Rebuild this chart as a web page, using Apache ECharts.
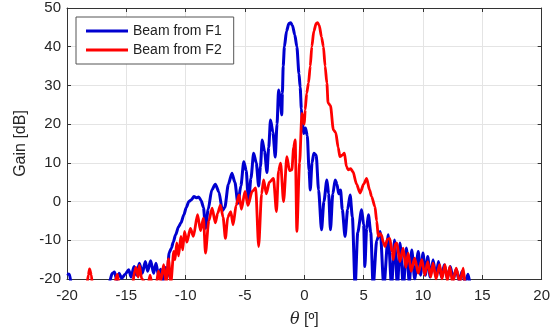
<!DOCTYPE html>
<html>
<head>
<meta charset="utf-8">
<script src="https://cdn.jsdelivr.net/npm/echarts@6/dist/echarts.min.js"></script>
<style>
  html, body { margin: 0; padding: 0; background: #fff; }
  #chart { width: 553px; height: 335px; }
</style>
</head>
<body>
<div id="chart"></div>
<script>
// [theta (deg), gain (dB)]; dips below -20 are clipped by the axis
const beamF1 = [
  [-20, -18.6], [-19.8, -18.8], [-19.6, -22], [-16.6, -22], [-16.4, -20.5], [-16.2, -18.6], [-16.0, -18.2],
  [-15.8, -20.3], [-15.6, -18.5], [-15.4, -19.8], [-15.1, -18.8], [-14.8, -17.6], [-14.6, -19.5],
  [-14.35, -16.8], [-14.15, -19], [-13.9, -15.9], [-13.65, -18.5], [-13.4, -15.5], [-13.2, -18],
  [-12.95, -15.3], [-12.7, -18.5], [-12.5, -15.9], [-12.3, -19], [-12.1, -17.5], [-11.9, -20.5],
  [-11.7, -17], [-11.55, -19.5], [-11.4, -13.3], [-11.2, -12], [-11.05, -10.5], [-10.85, -8.6],
  [-10.6, -6.5], [-10.4, -5.5], [-10.15, -3.4], [-9.95, -1.5], [-9.73, 0], [-9.5, 0.5], [-9.3, 1.3],
  [-9.1, 1.0], [-8.9, 1.2], [-8.7, 0.3], [-8.5, -1.5], [-8.33, -6.9], [-8.1, -2], [-7.8, 3], [-7.5, 4.5],
  [-7.2, 2.5], [-6.9, -2.3], [-6.7, -1.5], [-6.4, 4.5], [-6.1, 7.3], [-5.85, 5], [-5.6, -0.5],
  [-5.35, 4], [-5.1, 10.3], [-4.9, 8], [-4.7, -0.2], [-4.5, 6], [-4.27, 12.5], [-4.05, 10], [-3.85, 4],
  [-3.7, 9], [-3.55, 15.9], [-3.35, 13], [-3.15, 7.5], [-3.0, 14], [-2.85, 21.1], [-2.65, 18],
  [-2.45, 11.5], [-2.3, 20], [-2.17, 28.8], [-2.05, 27], [-1.9, 22.4], [-1.85, 28], [-1.78, 35],
  [-1.68, 40], [-1.5, 44], [-1.3, 46], [-1.15, 46.2], [-1.0, 45.5], [-0.8, 43], [-0.63, 40],
  [-0.45, 33], [-0.35, 29.5], [-0.25, 24], [-0.15, 20], [-0.05, 17.6], [0.1, 19], [0.25, 17],
  [0.4, 8], [0.5, 3], [0.65, 10], [0.8, 12.5], [1.0, 12], [1.2, 3], [1.45, -7.3], [1.65, 0],
  [1.9, 5.6], [2.05, 2], [2.2, -7.3], [2.4, 2], [2.6, 5.6], [2.75, 4.5], [2.9, 2], [3.05, 3],
  [3.2, -2], [3.43, -9], [3.65, -2], [3.86, 1.7], [4.05, -4], [4.28, -22], [4.5, -8], [4.83, -2.1],
  [5.0, -6], [5.1, -16.8], [5.25, -7], [5.4, -3.4], [5.6, -8], [5.8, -22], [6.1, -10], [6.4, -7.7],
  [6.7, -22], [7.07, -8.6], [7.35, -22], [7.6, -9.9], [7.85, -22], [8.06, -10.7], [8.35, -22],
  [8.6, -12], [8.85, -21], [9.05, -12.5], [9.3, -20], [9.6, -12.9], [9.8, -19], [10.0, -13.3],
  [10.2, -19], [10.4, -14.2], [10.6, -19.5], [10.85, -15], [11.1, -19.5], [11.3, -15.5],
  [11.55, -19.5], [11.8, -16.3], [12.05, -19.8], [12.3, -16.8], [12.55, -20], [12.8, -17.5],
  [13.05, -20.5], [13.3, -18], [13.55, -21], [13.8, -18.8], [14.0, -22]
];

const beamF2 = [
  [-20, -22], [-18.35, -22], [-18.2, -19], [-18.1, -17.4], [-17.95, -19], [-17.85, -22], [-16.0, -22],
  [-15.85, -19.5], [-15.75, -18.8], [-15.6, -22], [-14.5, -22], [-14.3, -18], [-14.2, -17],
  [-14.0, -19.5], [-13.9, -16.5], [-13.7, -20], [-13.2, -22], [-13.0, -19], [-12.8, -22], [-12.5, -22],
  [-12.3, -18], [-12.1, -20.5], [-11.85, -16.3], [-11.65, -21], [-11.45, -14.8], [-11.25, -21],
  [-11.0, -12.9], [-10.9, -15], [-10.75, -10.7], [-10.6, -14], [-10.4, -9], [-10.25, -12.5],
  [-10.1, -7.7], [-9.9, -10.5], [-9.6, -6.9], [-9.35, -9], [-9.0, -3.4], [-8.75, -7.5], [-8.5, -4.3],
  [-8.33, -13.3], [-8.05, -5], [-7.77, -1.7], [-7.5, -5.5], [-7.3, -3], [-7.07, -0.9], [-6.85, -4],
  [-6.65, -9.5], [-6.45, -4], [-6.2, -2.6], [-6.0, -6], [-5.75, -1], [-5.5, 1.7], [-5.3, -2],
  [-5.0, 2.6], [-4.75, -1], [-4.4, 2.6], [-4.1, 3.5], [-3.85, -11.6], [-3.6, 2], [-3.43, 5.6],
  [-3.2, 2], [-2.95, 5], [-2.6, 6], [-2.35, -2.6], [-2.17, 8], [-2.0, 9.9], [-1.75, 0], [-1.47, 11.6],
  [-1.25, 8], [-1.05, 8.2], [-0.9, 14], [-0.77, 15.9], [-0.63, -7.7], [-0.4, 10], [-0.2, 22.8],
  [0.0, 20], [0.07, 23.7], [0.2, 28], [0.35, 30.6], [0.5, 35], [0.63, 40], [0.8, 44], [1.0, 46],
  [1.11, 46.2], [1.25, 45.6], [1.45, 42.5], [1.61, 40], [1.75, 35], [1.9, 30.6], [2.0, 25.5],
  [2.2, 24.8], [2.45, 18.5], [2.65, 17.8], [2.85, 14], [3.0, 11.6], [3.2, 12], [3.38, 12.5],
  [3.55, 9], [3.7, 8.2], [3.9, 8.5], [4.1, 7.7], [4.4, 4.5], [4.7, 2.2], [5.0, 4.5], [5.25, 6],
  [5.5, 3], [5.67, 1.3], [5.95, -1.3], [6.1, -5], [6.23, -9], [6.4, -8.3], [6.5, -8.6], [6.65, -10.5],
  [6.8, -11.6], [7.0, -9.8], [7.2, -9.5], [7.4, -13], [7.5, -15], [7.65, -11], [7.8, -10.7],
  [8.05, -15.5], [8.33, -12], [8.55, -17], [8.75, -13.3], [9.0, -18], [9.3, -14.6], [9.6, -18.5],
  [9.9, -15], [10.15, -19], [10.4, -15.5], [10.65, -19.5], [10.85, -15.9], [11.1, -20], [11.4, -16.3],
  [11.6, -20], [11.85, -16.3], [12.05, -20.5], [12.26, -16.8], [12.5, -21], [12.8, -17.2],
  [13.1, -21], [13.4, -17.2], [13.55, -22]
];

const seriesNames = ['Beam from F1', 'Beam from F2'];
const xRange = [-20, 20];
const yRange = [-20, 50];

const font = "'Liberation Sans', Arial, sans-serif";
const axisColor = '#333';
const gridColor = '#e4e4e4';

const chart = echarts.init(document.getElementById('chart'), null, { renderer: 'canvas' });

const baseAxis = {
  type: 'value',
  axisLine: { show: true, onZero: false, lineStyle: { color: axisColor, width: 1 } },
  axisTick: { show: true, inside: true, length: 4, lineStyle: { color: axisColor } },
  axisLabel: { color: '#262626', fontFamily: font, fontSize: 15 },
  splitLine: { show: true, lineStyle: { color: gridColor, width: 1 } }
};

chart.setOption({
  backgroundColor: '#fff',
  animation: false,
  grid: { left: 67, right: 9, top: 8, bottom: 56 },
  legend: {
    data: seriesNames,
    orient: 'vertical',
    left: 76,
    top: 17,
    padding: [7, 12, 7, 10],
    itemGap: 5,
    icon: 'rect',
    itemWidth: 42,
    itemHeight: 3,
    borderColor: '#555',
    borderWidth: 1,
    backgroundColor: '#fff',
    textStyle: { color: '#222', fontFamily: font, fontSize: 14, lineHeight: 14 }
  },
  xAxis: [
    Object.assign({}, baseAxis, {
      min: xRange[0], max: xRange[1], interval: 5, position: 'bottom',
      axisLabel: Object.assign({}, baseAxis.axisLabel, { margin: 9 }),
      name: '{t|θ} [º]',
      nameLocation: 'middle',
      nameGap: 33,
      nameTextStyle: {
        color: '#262626', fontFamily: font, fontSize: 16,
        rich: { t: { fontStyle: 'italic', fontFamily: "'DejaVu Serif', serif", fontSize: 16, color: '#262626' } }
      }
    }),
    Object.assign({}, baseAxis, {
      min: xRange[0], max: xRange[1], interval: 5, position: 'top',
      axisLabel: { show: false }, splitLine: { show: false }
    })
  ],
  yAxis: [
    Object.assign({}, baseAxis, {
      min: yRange[0], max: yRange[1], interval: 10, position: 'left',
      axisLabel: Object.assign({}, baseAxis.axisLabel, { margin: 6 }),
      name: 'Gain [dB]',
      nameLocation: 'middle',
      nameGap: 36,
      nameTextStyle: { color: '#262626', fontFamily: font, fontSize: 16 }
    }),
    Object.assign({}, baseAxis, {
      min: yRange[0], max: yRange[1], interval: 10, position: 'right',
      axisLabel: { show: false }, splitLine: { show: false }
    })
  ],
  series: [
    {
      name: seriesNames[0],
      type: 'line',
      data: beamF1,
      symbol: 'none',
      clip: true,
      smooth: 0.25,
      smoothMonotone: 'x',
      color: '#0000d0',
      lineStyle: { color: '#0000d0', width: 3 }
    },
    {
      name: seriesNames[1],
      type: 'line',
      data: beamF2,
      symbol: 'none',
      clip: true,
      smooth: 0.25,
      smoothMonotone: 'x',
      color: '#ff0000',
      lineStyle: { color: '#ff0000', width: 2.8 }
    }
  ]
});
</script>
</body>
</html>
